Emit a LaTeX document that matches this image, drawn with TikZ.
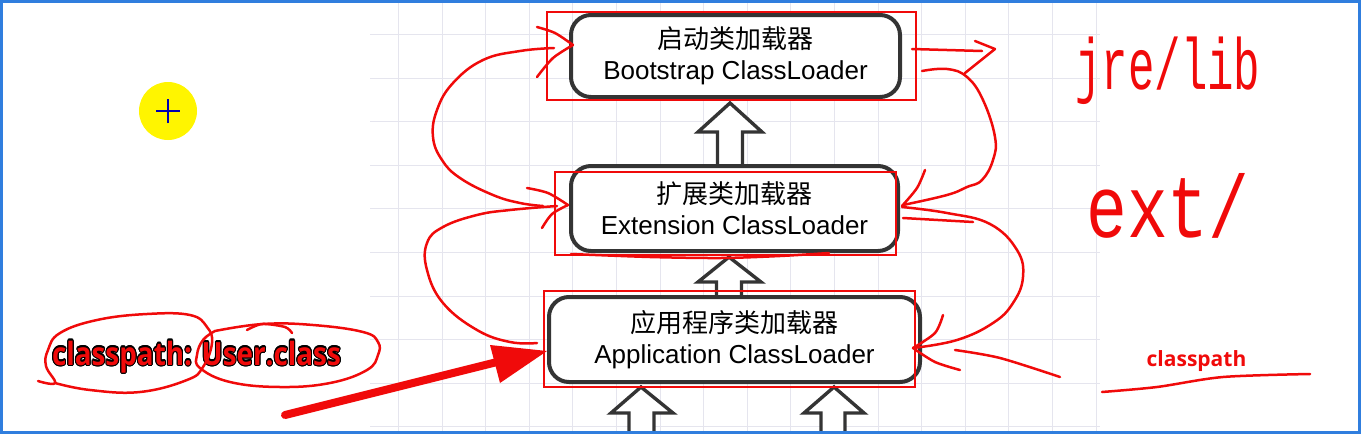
\documentclass[tikz,border=0pt]{standalone}
\usepackage{fontspec}
\setmainfont{Liberation Sans}
\newfontfamily\cjk{Noto Sans CJK SC}
\newfontfamily\uifont{Open Sans}
\newfontfamily\handfont{Liberation Mono}
\usepackage{contour}
\contourlength{0.6pt}
\usetikzlibrary{arrows.meta,positioning}
\definecolor{gridline}{RGB}{229,229,238}
\definecolor{frameblue}{RGB}{48,126,222}
\definecolor{boxline}{RGB}{52,52,52}
\definecolor{ink}{RGB}{240,10,10}
\definecolor{hilite}{RGB}{255,245,0}

\begin{document}
\begin{tikzpicture}[x=0.5pt,y=-0.5pt,node distance=20pt,
  loader/.style={draw=boxline,line width=2pt,rounded corners=10pt,fill=white,align=center,inner sep=0pt,font=\fontsize{13}{15.5}\selectfont},
  markbox/.style={draw=ink,line width=1pt},
  pen/.style={draw=ink,line width=1.25pt,line cap=round,line join=round},
  blockarrow/.style={draw=boxline,line width=1.7pt,fill=white,line join=miter},
  gridrule/.style={draw=gridline,line width=0.5pt},
  hand/.style={text=ink,anchor=base,inner sep=0pt}]
\useasboundingbox (0,0) rectangle (1361,434);
% background grid of the diagram
\foreach \i in {0,...,16} \draw[gridrule] (398.4+43.6*\i,3) -- (398.4+43.6*\i,431);
\foreach \j in {0,...,9} \draw[gridrule] (370,34.5+43.6*\j) -- (1100,34.5+43.6*\j);
% mouse pointer
\node[circle,fill=hilite,minimum size=29pt,inner sep=0pt] (cursor) at (168,111) {};
\draw[blue!70!black,line width=1.1pt] ([xshift=-6pt]cursor.center) -- ([xshift=6pt]cursor.center);
\draw[blue!70!black,line width=1.1pt] ([yshift=-6pt]cursor.center) -- ([yshift=6pt]cursor.center);
% hollow up arrows
\draw[blockarrow] (717.5,166) -- (717.5,132) -- (698,132) -- (730,103) -- (762,132) -- (742.5,132) -- (742.5,166) -- cycle;
\draw[blockarrow] (716.5,300) -- (716.5,282) -- (698,282) -- (729,257) -- (761,282) -- (741.5,282) -- (741.5,300) -- cycle;
\draw[blockarrow] (629,445) -- (629,413) -- (611,413) -- (641,387) -- (673,413) -- (654,413) -- (654,445) -- cycle;
\draw[blockarrow] (821,445) -- (821,413) -- (804,413) -- (834,387) -- (864,413) -- (845,413) -- (845,445) -- cycle;
% loaders
\node[loader,minimum width=164.5pt,minimum height=41pt] (boot) at (735.5,56) {{\cjk 启动类加载器}\\Bootstrap ClassLoader};
\node[loader,minimum width=163.5pt,minimum height=42.5pt,below=32.5pt of boot,xshift=-0.5pt] (ext) {{\cjk 扩展类加载器}\\Extension ClassLoader};
\node[loader,minimum width=185.5pt,minimum height=42.5pt,below=21pt of ext] (app) {{\cjk 应用程序类加载器}\\Application ClassLoader};
% red frames
\draw[markbox] (547,12) rectangle (916,100);
\draw[markbox] (555,172) rectangle (896,255);
\draw[markbox] (544,291) rectangle (915,387);
% notes
\node[hand,font=\handfont\fontsize{22}{22}\selectfont] (jre) at (1168,89) {\scalebox{1}[1.65]{jre/lib}};
\node[hand,font=\handfont\fontsize{34}{34}\selectfont] (extdir) at (1168,237) {\scalebox{1}[1.3]{ext/}};
\node[hand,font=\uifont\bfseries\fontsize{10.5}{12}\selectfont] (cpdir) at (1196.5,366) {classpath};
\node[hand,font=\uifont\bfseries\fontsize{16}{18}\selectfont] (cpfile) at (196.5,365) {\scalebox{0.87}[1]{\contour{black}{classpath: User.class}}};
% parent delegation, right side
\draw[pen] (912,49) -- (982,51);
\draw[pen] (975,41) -- (995,49) -- (965,73);
\draw[pen] plot[smooth,tension=0.7] coordinates {(922,71) (947,69) (967,77) (983,100) (995,137) (993,160) (982,180) (967,187) (947,195) (903,205)};
\draw[pen] plot[smooth] coordinates {(925,170) (917,188) (902,206)};
\draw[pen] (903,218) -- (973,222);
\draw[pen] plot[smooth,tension=0.7] coordinates {(902,207) (947,213) (990,224) (1017,250) (1023,277) (1013,303) (993,323) (957,340) (913,348)};
\draw[pen] plot[smooth] coordinates {(943,315) (935,333) (913,348)};
\draw[pen] plot[smooth] coordinates {(913,348) (935,362) (960,370)};
\draw[pen] plot[smooth] coordinates {(955,350) (1000,358) (1060,377)};
% parent delegation, left side
\draw[pen] plot[smooth,tension=0.7] coordinates {(543,206) (520,203) (493,195) (460,178) (442,160) (433,137) (437,110) (453,83) (483,60) (520,51) (554,48)};
\draw[pen] plot[smooth] coordinates {(537,27) (555,33) (573,45)};
\draw[pen] plot[smooth] coordinates {(573,45) (553,58) (537,77)};
\draw[pen] plot[smooth,tension=0.7] coordinates {(537,343) (510,342) (477,330) (443,303) (427,270) (427,243) (443,227) (477,215) (510,210) (557,206)};
\draw[pen] plot[smooth] coordinates {(527,188) (548,193) (568,205)};
\draw[pen] plot[smooth] coordinates {(568,205) (552,214) (542,228)};
\draw[pen] plot[smooth] coordinates {(571,254) (650,257) (721,258) (780,256) (829,253)};
% circles round the class file
\draw[pen] plot[smooth,tension=0.7] coordinates {(38,381) (55,383) (46,366) (48,350) (60,333) (97,320) (147,314) (190,315) (207,327) (212,343) (203,367) (187,380) (140,392) (90,390) (55,383)};
\draw[pen] plot[smooth,tension=0.7] coordinates {(215,331) (263,324) (313,325) (363,332) (378,342) (378,355) (367,370) (330,383) (280,387) (230,382) (200,368) (197,355) (203,340) (215,331)};
\draw[pen] plot[smooth] coordinates {(247,330) (262,324) (285,327) (292,333)};
\draw[pen] plot[smooth] coordinates {(1102,392) (1157,387) (1223,377) (1310,374)};
% big arrow into the application loader
\draw[ink,line width=4pt,line cap=round] (285,415) -- (505,360);
\fill[ink] (547,351) -- (490,345) -- (500,383) -- cycle;
% screen frame
\draw[frameblue,line width=1.5pt] (1.5,1.5) rectangle (1359.5,432.5);
\end{tikzpicture}
\end{document}
